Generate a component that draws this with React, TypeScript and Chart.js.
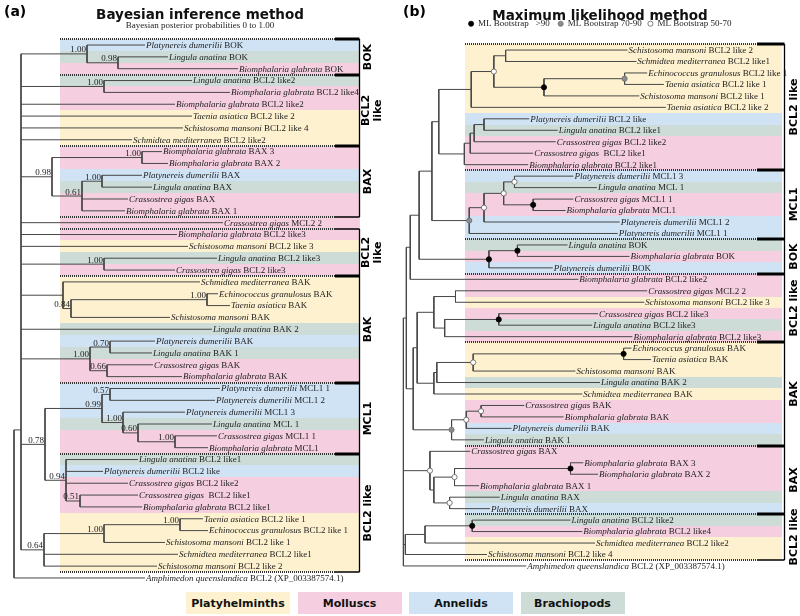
import React, { useEffect, useRef } from 'react';
import { Chart, registerables } from 'chart.js';
Chart.register(...registerables);

// ================= DATA =================
// ---- Panel (a): Bayesian inference tree ----
const speciesA = [
  'Platynereis dumerilii', 'Lingula anatina', 'Biomphalaria glabrata',
  'Lingula anatina', 'Biomphalaria glabrata', 'Biomphalaria glabrata', 'Taenia asiatica', 'Schistosoma mansoni', 'Schmidtea mediterranea',
  'Biomphalaria glabrata', 'Biomphalaria glabrata', 'Platynereis dumerilii', 'Lingula anatina', 'Crassostrea gigas', 'Biomphalaria glabrata',
  'Crassostrea gigas',
  'Biomphalaria glabrata', 'Schistosoma mansoni', 'Lingula anatina', 'Crassostrea gigas',
  'Schmidtea mediterranea', 'Echinococcus granulosus', 'Taenia asiatica', 'Schistosoma mansoni', 'Lingula anatina', 'Platynereis dumerilii', 'Lingula anatina', 'Crassostrea gigas', 'Biomphalaria glabrata',
  'Platynereis dumerilii', 'Platynereis dumerilii', 'Platynereis dumerilii', 'Lingula anatina', 'Crassostrea gigas', 'Biomphalaria glabrata',
  'Lingula anatina', 'Platynereis dumerilii', 'Crassostrea gigas', 'Crassostrea gigas', 'Biomphalaria glabrata', 'Taenia asiatica', 'Echinococcus granulosus', 'Schistosoma mansoni', 'Schmidtea mediterranea', 'Schistosoma mansoni',
  'Amphimedon queenslandica',
];
const genesA = [
  'BOK', 'BOK', 'BOK',
  'BCL2 like2', 'BCL2 like4', 'BCL2 like2', 'BCL2 like 2', 'BCL2 like 4', 'BCL2 like2',
  'BAX 3', 'BAX 2', 'BAX', 'BAX', 'BAX', 'BAX 1',
  'MCL2 2',
  'BCL2 like3', 'BCL2 like 3', 'BCL2 like3', 'BCL2 like3',
  'BAK', 'BAK', 'BAK', 'BAK', 'BAK 2', 'BAK', 'BAK 1', 'BAK', 'BAK',
  'MCL1 1', 'MCL1 2', 'MCL1 3', 'MCL 1', 'MCL1 1', 'MCL1',
  'BCL2 like1', 'BCL2 like', 'BCL2 like2', ' BCL2 like1', 'BCL2 like1', 'BCL2 like 1', 'BCL2 like 1', 'BCL2 like 1', 'BCL2 like1', 'BCL2 like 2',
  'BCL2 (XP_003387574.1)',
];
// depth of each tip (branch-length units of the figure)
const tipDepthA = [
  131, 154, 224, 178, 216, 161, 178, 169, 118, 148, 154, 128, 138, 114, 111, 209, 163, 174, 203, 161,
  186, 204, 216, 156, 198, 141, 138, 139, 168, 206, 201, 171, 198, 203, 194, 124, 89, 114, 124, 128,
  189, 194, 151, 164, 143, 131,
];
const groupLabelsA = ['BOK', 'BCL2\nlike', 'BAX', 'BCL2\nlike', 'BAK', 'MCL1', 'BCL2 like'];
const groupStartA = [0, 3, 9, 16, 20, 29, 35];
const groupEndA = [2, 8, 14, 19, 28, 34, 44];

// ---- Panel (b): Maximum likelihood tree ----
const speciesB = [
  'Schistosoma mansoni', 'Schmidtea mediterranea', 'Echinococcus granulosus', 'Taenia asiatica', 'Schistosoma mansoni', 'Taenia asiatica',
  'Platynereis dumerilii', 'Lingula anatina', 'Crassostrea gigas', 'Crassostrea gigas', 'Biomphalaria glabrata',
  'Platynereis dumerilii', 'Lingula anatina', 'Crassostrea gigas', 'Biomphalaria glabrata', 'Platynereis dumerilii', 'Platynereis dumerilii',
  'Lingula anatina', 'Biomphalaria glabrata', 'Platynereis dumerilii',
  'Biomphalaria glabrata', 'Crassostrea gigas', 'Schistosoma mansoni', 'Crassostrea gigas', 'Lingula anatina', 'Biomphalaria glabrata',
  'Echinococcus granulosus', 'Taenia asiatica', 'Schistosoma mansoni', 'Lingula anatina', 'Schmidtea mediterranea', 'Crassostrea gigas', 'Biomphalaria glabrata', 'Platynereis dumerilii', 'Lingula anatina',
  'Crassostrea gigas', 'Biomphalaria glabrata', 'Biomphalaria glabrata', 'Biomphalaria glabrata', 'Lingula anatina', 'Platynereis dumerilii',
  'Lingula anatina', 'Biomphalaria glabrata', 'Schmidtea mediterranea', 'Schistosoma mansoni',
  'Amphimedon queenslandica',
];
const genesB = [
  'BCL2 like 2', 'BCL2 like1', 'BCL2 like 1', 'BCL2 like 1', 'BCL2 like 1', 'BCL2 like 2',
  'BCL2 like', 'BCL2 like1', 'BCL2 like2', ' BCL2 like1', 'BCL2 like1',
  'MCL1 3', 'MCL 1', 'MCL1 1', 'MCL1', 'MCL1 2', 'MCL1 1',
  'BOK', 'BOK', 'BOK',
  'BCL2 like2', 'MCL2 2', 'BCL2 like 3', 'BCL2 like3', 'BCL2 like3', 'BCL2 like3',
  'BAK', 'BAK', 'BAK', 'BAK 2', 'BAK', 'BAK', 'BAK', 'BAK', 'BAK 1',
  'BAX', 'BAX 3', 'BAX 2', 'BAX 1', 'BAX', 'BAX',
  'BCL2 like2', 'BCL2 like4', 'BCL2 like2', 'BCL2 like 4',
  'BCL2 (XP_003387574.1)',
];
const tipDepthB = [
  227, 236, 247, 264, 239, 266, 127, 156, 154, 131, 126, 172, 196, 172, 164, 219, 217, 166, 229, 151,
  177, 247, 244, 197, 191, 232, 231, 251, 174, 199, 181, 122, 162, 109, 81, 67, 182, 197, 76, 97,
  87, 169, 181, 194, 84, 124,
];
const groupLabelsB = ['BCL2 like', 'MCL1', 'BOK', 'BCL2 like', 'BAK', 'BAX', 'BCL2 like'];
const groupStartB = [0, 11, 17, 20, 26, 35, 41];
const groupEndB = [10, 16, 19, 25, 34, 40, 44];
const bootstrapLabels = ['ML Bootstrap   >90  ', 'ML Bootstrap 70-90 ', 'ML Bootstrap 50-70'];

// ---- Taxa ----
const phylumNames = ['Platyhelminths', 'Molluscs', 'Annelids', 'Brachiopods'];
const phylumColors = ['#fdf1cf', '#f5cfdf', '#cfe3f5', '#cddcd7'];
const phylumOf: Record<string, string> = {
  'Schistosoma mansoni': 'Platyhelminths', 'Schmidtea mediterranea': 'Platyhelminths',
  'Taenia asiatica': 'Platyhelminths', 'Echinococcus granulosus': 'Platyhelminths',
  'Biomphalaria glabrata': 'Molluscs', 'Crassostrea gigas': 'Molluscs',
  'Platynereis dumerilii': 'Annelids', 'Lingula anatina': 'Brachiopods',
};

// ---- Tree topologies: n(depth, support, ...children); leaves are row indices ----
type TNode = { d: number; tag: string | number | null; c: (TNode | number)[]; yRow?: number };
const n = (d: number, tag: string | number | null, ...c: (TNode | number)[]): TNode => ({ d, tag, c });
const pin = (yRow: number, t: TNode): TNode => ({ ...t, yRow });

const treeA = n(0, null,
  pin(32.5, n(7, null,
    n(73, '1.00', 0, n(104, '0.98', 1, 2)),
    n(90, '1.00', 3, 4),
    5, 6, 7, 8,
    n(38, '0.98', n(128, '1.00', 9, 10), n(68, '0.61', n(88, '1.00', 11, 12), 13, 14)),
    15, 16, 17,
    n(90, '1.00', 18, 19),
    n(49, null, 20, n(57, '0.84', n(193, '1.00', 21, 22), 23)),
    24,
    n(76, '1.00', n(96, '0.70', 25, 26), n(93, '0.66', 27, 28)),
    n(31, '0.78',
      n(88, '0.99', n(96, '0.57', 29, 30), n(109, '1.00', 31, n(124, '0.60', 32, n(161, '1.00', 33, 34)))),
      n(52, '0.94', 35, 36, 37, n(66, '0.51', 38, 39))),
    n(30, '0.64', n(90, '1.00', n(166, '1.00', 40, 41), 42), 43, 44),
  )),
  45,
);

// support class: 1 = >90, 2 = 70-90, 3 = 50-70
const treeB = n(-1, null,
  n(2, null,
    n(6, null,
      n(15, null,
        n(28, null,
          n(35, null,
            n(68, null, n(91, 3, n(103, null, 0, 1), n(142, 1, n(224, 2, 2, 3), 4)), 5),
            n(61, null, n(67, null, n(71, null, n(81, null, 6, 7), 8), 9), 10)),
          n(66, 2, n(81, 3, n(101, 3, n(112, 3, 11, 12), n(131, 1, 13, 14)), 15), 16)),
        n(86, 1, n(115, 1, 17, 18), 19)),
      20),
    n(9, null,
      n(13, null,
        n(30, null, n(52, null, 21, 22), n(41, null, n(96, 1, 23, 24), 25)),
        n(30, null, n(33, null, n(70, 3, n(223, 1, 26, 27), 28), 29), 30)),
      n(48, 2, n(63, 3, n(78, 3, 31, 32), 33), 34))),
  n(26, 3, 35, n(30, null, n(51, 3, n(169, 1, 36, 37), 38), n(46, 3, 39, 40))),
  n(1, null, n(21, null, n(69, 1, 41, 42), 43), 44),
  45,
);

// ================= STYLE / LAYOUT =================
const SERIF = '"Liberation Serif", "Times New Roman", serif';
const SANS = '"DejaVu Sans", Verdana, sans-serif';
const TEXT = '#1c1c1c';
const BOOT_FILL = ['#000000', '#8c8c8c', '#ffffff'];
const BOOT_EDGE = ['#000000', '#6e6e6e', '#5a5a5a'];

type PanelCfg = {
  letter: string; title: string; species: string[]; genes: string[]; tips: number[]; tree: TNode;
  groupLabels: string[]; groupStart: number[]; groupEnd: number[];
  bandStart: number; bandEnd: number; bracketOff: number; labelOff: number;
  xMin: number; xMax: number; rowTopPx: number; rowBottomPx: number; bootstrap: boolean; letterX: number;
};

const panelA: PanelCfg = {
  letter: '(a)', title: 'Bayesian inference method', species: speciesA, genes: genesA, tips: tipDepthA, tree: treeA,
  groupLabels: groupLabelsA, groupStart: groupStartA, groupEnd: groupEndA,
  bandStart: 46, bandEnd: 346, bracketOff: -1, labelOff: 9,
  xMin: -14, xMax: 386, rowTopPx: 39.1, rowBottomPx: 583.9, bootstrap: false, letterX: 4,
};
const panelB: PanelCfg = {
  letter: '(b)', title: 'Maximum likelihood method', species: speciesB, genes: genesB, tips: tipDepthB, tree: treeB,
  groupLabels: groupLabelsB, groupStart: groupStartB, groupEnd: groupEndB,
  bandStart: 62, bandEnd: 384, bracketOff: 2, labelOff: 10,
  xMin: -1, xMax: 399, rowTopPx: 44.3, rowBottomPx: 571.7, bootstrap: true, letterX: 3,
};

function layoutTree(root: TNode, tips: number[]) {
  const segs: { x: number; y: number | null }[] = [];
  const nodes: { x: number; y: number; tag: string | number | null }[] = [];
  const walk = (t: TNode | number): { x: number; y: number } => {
    if (typeof t === 'number') return { x: tips[t], y: t };
    const kids = t.c.map(walk);
    const y = t.yRow ?? (kids[0].y + kids[kids.length - 1].y) / 2;
    const ys = kids.map((k) => k.y).concat([y]);
    segs.push({ x: t.d, y: Math.min(...ys) }, { x: t.d, y: Math.max(...ys) }, { x: t.d, y: null });
    kids.forEach((k) => segs.push({ x: t.d, y: k.y }, { x: k.x, y: k.y }, { x: k.x, y: null }));
    nodes.push({ x: t.d, y, tag: t.tag });
    return { x: t.d, y };
  };
  walk(root);
  return { segs, nodes };
}

function panelPlugin(p: PanelCfg, nodes: { x: number; y: number; tag: any }[]) {
  const nRows = p.species.length;
  const boundaries = () => {
    const m = new Map<number, number>();
    p.groupStart.forEach((s) => m.set(s - 0.5, (m.get(s - 0.5) || 0) + 1));
    p.groupEnd.forEach((e) => m.set(e + 0.5, (m.get(e + 0.5) || 0) + 1));
    return m;
  };
  return {
    id: 'treePanel',
    // fit the row axis so that the rows sit under the heading boxes exactly as in the figure
    afterLayout(chart: any) {
      const ys = chart.scales.y;
      const { top, bottom } = chart.chartArea;
      const pitch = (p.rowBottomPx - p.rowTopPx) / nRows;
      ys.min = -0.5 - (p.rowTopPx - top) / pitch;
      ys.max = nRows - 0.5 + (bottom - p.rowBottomPx) / pitch;
      ys.configure();
    },
    beforeDatasetsDraw(chart: any) {
      const { ctx } = chart;
      const xs = chart.scales.x, ys = chart.scales.y;
      const bx0 = Math.round(xs.getPixelForValue(p.bandStart));
      const bx1 = Math.round(xs.getPixelForValue(p.bandEnd));
      ctx.save();
      p.species.forEach((sp, i) => {
        const ph = phylumOf[sp];
        if (!ph) return;
        const t = Math.round(ys.getPixelForValue(i - 0.5));
        const b = Math.round(ys.getPixelForValue(i + 0.5));
        ctx.fillStyle = phylumColors[phylumNames.indexOf(ph)];
        ctx.fillRect(bx0, t, bx1 - bx0, b - t);
      });
      ctx.strokeStyle = '#333';
      ctx.lineWidth = 2;
      ctx.setLineDash([1, 1]);
      boundaries().forEach((_c, r) => {
        const y = Math.round(ys.getPixelForValue(r));
        ctx.beginPath();
        ctx.moveTo(bx0, y);
        ctx.lineTo(bx1 - 25, y);
        ctx.stroke();
      });
      ctx.restore();
    },
    afterDatasetsDraw(chart: any) {
      const { ctx } = chart;
      const xs = chart.scales.x, ys = chart.scales.y;
      const bx1 = Math.round(xs.getPixelForValue(p.bandEnd));
      const brX = bx1 + p.bracketOff + 0.5;
      ctx.save();
      // boundary marks
      const bmap = boundaries();
      const top = Math.min(...bmap.keys());
      bmap.forEach((count, r) => {
        const y = Math.round(ys.getPixelForValue(r));
        ctx.strokeStyle = '#000';
        ctx.lineWidth = count > 1 || r === top ? 3 : 1.5;
        ctx.beginPath();
        ctx.moveTo(bx1 - 25, y);
        ctx.lineTo(brX, y);
        ctx.stroke();
      });
      // brackets + group labels
      p.groupLabels.forEach((lab, g) => {
        const y0 = Math.round(ys.getPixelForValue(p.groupStart[g] - 0.5));
        const y1 = Math.round(ys.getPixelForValue(p.groupEnd[g] + 0.5));
        ctx.strokeStyle = '#000';
        ctx.lineWidth = 1.3;
        ctx.beginPath();
        ctx.moveTo(brX, y0);
        ctx.lineTo(brX, y1);
        ctx.stroke();
        const lines = lab.split('\n');
        ctx.save();
        ctx.translate(brX + p.labelOff + (lines.length > 1 ? 4 : 0), (y0 + y1) / 2);
        ctx.rotate(-Math.PI / 2);
        ctx.fillStyle = '#000';
        ctx.font = `bold 11px ${SANS}`;
        ctx.textAlign = 'center';
        ctx.textBaseline = 'middle';
        lines.forEach((ln, i) => ctx.fillText(ln, 0, (i - (lines.length - 1) / 2) * 12));
        ctx.restore();
      });
      // leaf labels
      ctx.textBaseline = 'middle';
      ctx.textAlign = 'left';
      ctx.fillStyle = TEXT;
      p.species.forEach((sp, i) => {
        const x = xs.getPixelForValue(p.tips[i]) + 1;
        const y = ys.getPixelForValue(i) + 0.5;
        ctx.font = `italic 9px ${SERIF}`;
        ctx.fillText(sp, x, y);
        const w = ctx.measureText(sp).width;
        ctx.font = `9px ${SERIF}`;
        ctx.fillText(' ' + p.genes[i], x + w, y);
      });
      // posterior probabilities
      ctx.font = `9px ${SERIF}`;
      ctx.textAlign = 'right';
      ctx.textBaseline = 'alphabetic';
      nodes.forEach((nd) => {
        if (typeof nd.tag !== 'string') return;
        ctx.fillText(nd.tag, xs.getPixelForValue(nd.x) - 1, ys.getPixelForValue(nd.y) - 1.5);
      });
      // panel letter
      ctx.font = `bold 14px ${SANS}`;
      ctx.textAlign = 'left';
      ctx.textBaseline = 'middle';
      ctx.fillStyle = '#000';
      ctx.fillText(p.letter, p.letterX, 12);
      ctx.restore();
    },
  };
}

function buildConfig(p: PanelCfg): any {
  const { segs, nodes } = layoutTree(p.tree, p.tips);
  const datasets: any[] = [];
  if (p.bootstrap) {
    bootstrapLabels.forEach((lab, k) => {
      datasets.push({
        label: lab,
        data: nodes.filter((nd) => nd.tag === k + 1).map((nd) => ({ x: nd.x, y: nd.y })),
        pointStyle: 'circle', pointRadius: 2.6, pointHoverRadius: 2.6,
        backgroundColor: BOOT_FILL[k], borderColor: BOOT_EDGE[k], borderWidth: 0.8,
        showLine: false, clip: false,
      });
    });
  }
  datasets.push({
    label: '', data: segs, showLine: true, borderColor: '#474747', borderWidth: 1,
    pointRadius: 0, pointHoverRadius: 0, spanGaps: false, clip: false,
  });
  const plugins: any = {
    tooltip: { enabled: false },
    title: {
      display: true, text: p.title, color: '#111',
      font: { family: SANS, size: 13.5, weight: 'bold' },
      padding: p.bootstrap ? { top: 8, bottom: -9 } : { top: 7, bottom: 0 },
    },
    legend: { display: false },
  };
  if (p.bootstrap) {
    plugins.legend = {
      display: true, position: 'top',
      labels: {
        usePointStyle: true, boxWidth: 5, boxHeight: 3.6, padding: 4, color: TEXT,
        font: { family: SERIF, size: 9 },
        filter: (item: any) => item.text !== '',
      },
    };
  } else {
    plugins.subtitle = {
      display: true, text: 'Bayesian posterior probabilities 0 to 1.00', color: TEXT,
      font: { family: SERIF, size: 9 }, padding: { top: -2.6, bottom: 7.7 },
    };
  }
  return {
    type: 'scatter',
    data: { datasets },
    options: {
      animation: false, responsive: false, events: [],
      layout: { padding: 0 },
      scales: {
        x: { type: 'linear', display: false, min: p.xMin, max: p.xMax },
        y: { type: 'linear', display: false, reverse: true, min: -0.5, max: p.species.length - 0.5 },
      },
      plugins,
    },
    plugins: [panelPlugin(p, nodes)],
  };
}

function TreePanel({ cfg, left }: { cfg: PanelCfg; left: number }) {
  const ref = useRef<HTMLCanvasElement>(null);
  useEffect(() => {
    const chart = new Chart(ref.current as HTMLCanvasElement, buildConfig(cfg));
    return () => chart.destroy();
  }, [cfg]);
  return (
    <canvas ref={ref} width={400} height={590}
      style={{ position: 'absolute', left, top: 0, width: 400, height: 590 }} />
  );
}

export default function App() {
  return (
    <div style={{ position: 'fixed', left: 0, top: 0, width: 800, height: 616, background: '#fff', overflow: 'hidden' }}>
      <TreePanel cfg={panelA} left={0} />
      <TreePanel cfg={panelB} left={400} />
      <div style={{ position: 'absolute', left: 186, top: 592, display: 'flex', gap: 7.5 }}>
        {phylumNames.map((name, i) => (
          <div key={name} style={{
            width: 104, height: 22, background: phylumColors[i], color: '#111',
            font: `bold 11px ${SANS}`, display: 'flex', alignItems: 'center', justifyContent: 'center',
          }}>{name}</div>
        ))}
      </div>
    </div>
  );
}
